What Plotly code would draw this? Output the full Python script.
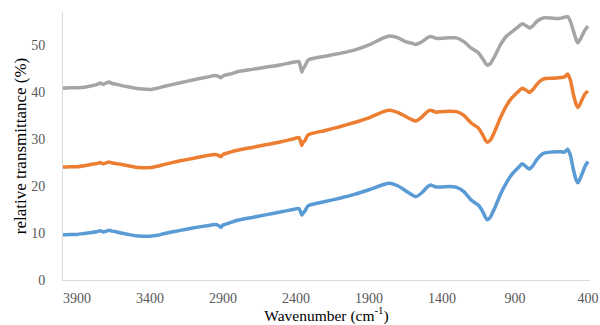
import plotly.graph_objects as go

# Wavenumber sampling (cm^-1), shared by all three spectra
wavenumber = [4000, 3950, 3900, 3850, 3800, 3760, 3740, 3720, 3700, 3680, 3660, 3640,
              3600, 3550, 3500, 3450, 3400, 3350, 3300, 3200, 3100, 3000, 2960, 2930,
              2915, 2900, 2870, 2850, 2800, 2700, 2600, 2500, 2420, 2380, 2370, 2360,
              2350, 2340, 2320, 2300, 2200, 2100, 2000, 1900, 1800, 1760, 1700, 1650,
              1600, 1580, 1540, 1500, 1480, 1440, 1400, 1350, 1300, 1250, 1200, 1150,
              1120, 1100, 1090, 1070, 1040, 1000, 960, 920, 880, 850, 820, 800, 780,
              750, 720, 700, 650, 600, 560, 540, 520, 500, 480, 470, 460, 440, 420, 400]

# Relative transmittance (%) of the three samples
spectrum_blue = [9.6, 9.7, 9.7, 9.9, 10.1, 10.3, 10.5, 10.2, 10.4, 10.6, 10.4, 10.3,
                 10.0, 9.7, 9.4, 9.3, 9.3, 9.5, 9.9, 10.5, 11.1, 11.6, 11.8, 11.6,
                 11.2, 11.7, 12.0, 12.2, 12.7, 13.3, 13.9, 14.5, 15.0, 15.2, 14.6, 13.8,
                 14.3, 14.6, 15.7, 16.0, 16.7, 17.4, 18.2, 19.2, 20.3, 20.6, 20.0, 19.0,
                 18.0, 17.7, 18.5, 19.8, 20.2, 19.8, 19.8, 19.9, 19.7, 18.8, 17.0, 15.9,
                 14.5, 13.2, 12.8, 13.3, 15.2, 18.2, 20.6, 22.5, 23.8, 24.7, 24.0, 23.6, 24.2,
                 25.6, 26.6, 27.0, 27.2, 27.3, 27.2, 27.8, 26.5, 23.5, 21.2, 20.7, 21.1, 22.6, 24.2, 25.2]

spectrum_orange = [24.0, 24.1, 24.1, 24.3, 24.6, 24.8, 25.0, 24.7, 24.9, 25.1, 24.9, 24.8,
                   24.6, 24.3, 24.0, 23.9, 23.9, 24.2, 24.6, 25.3, 25.9, 26.5, 26.7, 26.5,
                   26.2, 26.7, 27.0, 27.2, 27.6, 28.2, 28.8, 29.4, 30.0, 30.3, 29.6, 28.6,
                   29.3, 29.6, 30.8, 31.1, 31.8, 32.6, 33.5, 34.5, 35.8, 36.1, 35.6, 34.8,
                   34.0, 33.8, 34.6, 35.8, 36.1, 35.7, 35.8, 35.9, 35.8, 35.0, 33.4, 32.3,
                   30.8, 29.6, 29.3, 29.7, 31.5, 34.5, 37.0, 38.8, 40.0, 40.8, 40.3, 39.9, 40.4,
                   41.6, 42.5, 42.8, 42.9, 43.0, 43.2, 43.8, 42.5, 39.5, 37.3, 36.7, 37.0, 38.4, 39.6, 40.2]

spectrum_gray = [40.8, 40.9, 40.9, 41.0, 41.3, 41.6, 41.9, 41.6, 41.9, 42.1, 41.8, 41.7,
                 41.4, 41.1, 40.8, 40.6, 40.5, 40.8, 41.2, 41.9, 42.6, 43.2, 43.5, 43.3,
                 43.0, 43.4, 43.7, 43.8, 44.3, 44.8, 45.3, 45.8, 46.3, 46.5, 45.5, 44.2,
                 45.0, 45.4, 46.7, 47.0, 47.6, 48.2, 48.9, 50.0, 51.5, 51.9, 51.5, 50.7,
                 50.3, 50.1, 50.6, 51.5, 51.8, 51.4, 51.4, 51.5, 51.5, 50.7, 49.3, 48.3,
                 47.0, 46.0, 45.7, 46.0, 47.5, 50.0, 51.8, 52.8, 53.8, 54.5, 54.0, 53.6, 54.0,
                 55.0, 55.6, 55.8, 55.7, 55.6, 55.9, 56.0, 55.0, 53.0, 51.0, 50.4, 50.8, 52.0, 53.2, 54.0]

x_ticks = [3900, 3400, 2900, 2400, 1900, 1400, 900, 400]
y_ticks = [0, 10, 20, 30, 40, 50]

series = [
    (spectrum_blue, "#5B9BD5"),
    (spectrum_orange, "#ED7D31"),
    (spectrum_gray, "#A5A5A5"),
]

fig = go.Figure()
for values, color in series:
    fig.add_trace(go.Scatter(
        x=wavenumber, y=values, mode="lines",
        line=dict(color=color, width=3.5, shape="spline", smoothing=0.5),
        showlegend=False, hoverinfo="skip",
    ))

tick_font = dict(family="Liberation Serif", size=14, color="#595959")

fig.update_layout(
    width=600, height=325,
    margin=dict(l=63, r=10, t=12, b=45),
    paper_bgcolor="white", plot_bgcolor="white",
    showlegend=False,
)
fig.update_xaxes(
    range=[3996, 386], tickvals=x_ticks, ticktext=[str(v) for v in x_ticks],
    showgrid=False, zeroline=False, showline=True, linecolor="#D9D9D9", linewidth=1,
    ticks="", ticklabelstandoff=5, tickfont=tick_font, automargin=False,
    title=dict(text="Wavenumber (cm<sup>-1</sup>)",
               font=dict(family="Liberation Serif", size=15.5, color="#000000"), standoff=13),
)
fig.update_yaxes(
    range=[0, 57], tickvals=y_ticks, ticktext=[str(v) for v in y_ticks],
    showgrid=False, zeroline=False, showline=True, linecolor="#D9D9D9", linewidth=1,
    ticks="", ticklabelstandoff=14, tickfont=tick_font, automargin=False,
    title=dict(text="relative transmittance (%)",
               font=dict(family="Liberation Serif", size=17, color="#000000"), standoff=0),
)

fig.write_html("out.html")
